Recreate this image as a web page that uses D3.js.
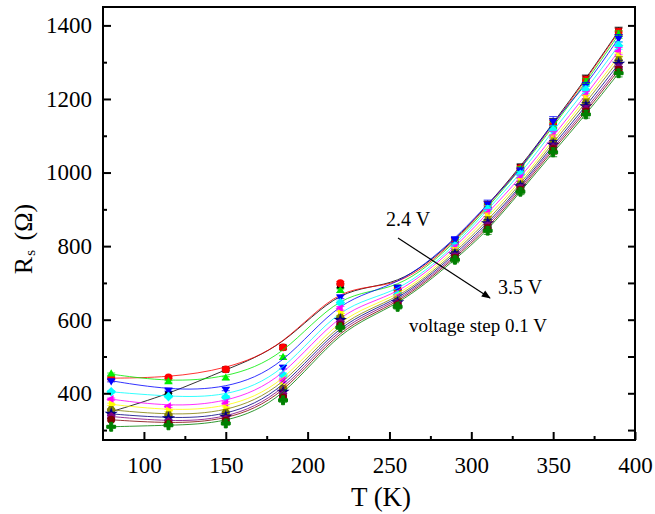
<!DOCTYPE html>
<html><head><meta charset="utf-8">
<script src="https://cdn.jsdelivr.net/npm/d3@7"></script>
<style>
body{margin:0;background:#fff;}
svg, svg text{font-family:"Liberation Serif","Times New Roman",serif !important;}
</style></head>
<body><svg id="c" width="655" height="514"></svg>
<script>
// ---- data ----
const temps = [80,115,150,185,220,255,290,310,330,350,370,390];
const voltages = ["2.4 V","2.5 V","2.6 V","2.7 V","2.8 V","2.9 V","3.0 V","3.1 V","3.2 V","3.3 V","3.4 V","3.5 V"];
const v24 = [350, 397, 465, 525, 692, 686, 815, 912, 1015, 1135, 1255, 1385];
const v25 = [441, 443, 465, 525, 699, 680, 812, 910, 1012, 1130, 1252, 1382];
const v26 = [452, 431, 441, 497, 679, 675, 808, 905, 1008, 1125, 1245, 1375];
const v27 = [434, 409, 411, 471, 662, 688, 818, 915, 1005, 1140, 1235, 1365];
const v28 = [404, 391, 389, 450, 646, 668, 800, 900, 995, 1115, 1225, 1345];
const v29 = [384, 364, 373, 436, 631, 662, 795, 890, 985, 1100, 1210, 1330];
const v30 = [370, 353, 359, 420, 617, 656, 788, 880, 975, 1090, 1200, 1315];
const v31 = [355, 341, 347, 412, 606, 651, 782, 870, 968, 1082, 1190, 1305];
const v32 = [344, 332, 336, 404, 599, 647, 777, 862, 962, 1075, 1180, 1295];
const v33 = [337, 323, 329, 396, 592, 643, 772, 855, 958, 1068, 1172, 1285];
const v34 = [328, 318, 325, 389, 585, 639, 768, 848, 953, 1062, 1165, 1278];
const v35 = [309, 313, 318, 381, 579, 635, 763, 842, 948, 1055, 1158, 1270];
const errs = [3, 3, 4, 5, 5, 6, 8, 10, 8, 12, 10, 10];
const seriesValues = [v24,v25,v26,v27,v28,v29,v30,v31,v32,v33,v34,v35];
const colors = ["#000000","#ff0000","#00ee00","#0000ff","#00ffff","#ff00ff","#ffff00","#808000","#000080","#800080","#800000","#008000"];
const shapes = ["square","circle","up","down","diamond","left","right","hexagon","star","pentagon","circle","plus"];
const xTicks = [100,150,200,250,300,350,400];
const yTicks = [400,600,800,1000,1200,1400];

// ---- layout ----
const svg = d3.select("#c");
const L=103, R=635, T=7, B=440;
const x = d3.scaleLinear().domain([75,400]).range([L,R]);
const y = d3.scaleLinear().domain([273,1450]).range([B,T]);
const FONT = "'Liberation Serif','Times New Roman',serif";

function poly(n, r, rot){
  const pts=[];
  for(let i=0;i<n;i++){const a=rot+i*2*Math.PI/n; pts.push([r*Math.cos(a), r*Math.sin(a)]);}
  return "M"+pts.map(p=>p.join(",")).join("L")+"Z";
}
function symPath(s){
  switch(s){
    case "square": return d3.symbol(d3.symbolSquare,46)();
    case "circle": return d3.symbol(d3.symbolCircle,48)();
    case "up": return poly(3,4.8,-Math.PI/2);
    case "down": return poly(3,4.8,Math.PI/2);
    case "left": return poly(3,4.8,Math.PI);
    case "right": return poly(3,4.8,0);
    case "diamond": return poly(4,4.8,0);
    case "hexagon": return poly(6,4.4,0);
    case "pentagon": return poly(5,4.5,-Math.PI/2);
    case "star": return d3.symbol(d3.symbolStar,55)();
    case "plus": return d3.symbol(d3.symbolCross,44)();
  }
}

const g = svg.append("g");
const series = seriesValues.map((vals,i)=>({name:voltages[i], color:colors[i], shape:shapes[i],
  pts: temps.map((t,j)=>({t, v:vals[j], e:errs[j]}))}));

const line = d3.line().x(d=>x(d.t)).y(d=>y(d.v)).curve(d3.curveBasis);

series.forEach(s=>{
  const sg = g.append("g");
  s.pts.forEach(p=>{
    const cx=x(p.t), y1=y(p.v+p.e), y2=y(p.v-p.e);
    sg.append("line").attr("x1",cx).attr("x2",cx).attr("y1",y1).attr("y2",y2).attr("stroke",s.color).attr("stroke-width",0.8);
    [y1,y2].forEach(yy=>sg.append("line").attr("x1",cx-4).attr("x2",cx+4).attr("y1",yy).attr("y2",yy).attr("stroke",s.color).attr("stroke-width",0.8));
  });
  sg.append("path").attr("d",line(s.pts)).attr("fill","none").attr("stroke",s.color).attr("stroke-width",1).attr("stroke-opacity",0.8);
  sg.selectAll("path.m").data(s.pts).enter().append("path").attr("class","m")
    .attr("d",symPath(s.shape)).attr("transform",d=>`translate(${x(d.t)},${y(d.v)})`)
    .attr("fill",s.color).attr("stroke",s.shape==="plus"?s.color:"none");
});

// ---- axes ----
svg.append("rect").attr("x",L).attr("y",T).attr("width",R-L).attr("height",B-T)
  .attr("fill","none").attr("stroke","#000").attr("stroke-width",2);

const xb = svg.append("g").attr("transform",`translate(0,${B})`)
  .call(d3.axisBottom(x).tickValues(xTicks).tickSize(-8).tickFormat(d3.format("d")).tickPadding(17));
const xm = svg.append("g").attr("transform",`translate(0,${B})`)
  .call(d3.axisBottom(x).tickValues(d3.range(125,400,50)).tickSize(-4).tickFormat(""));
const yl = svg.append("g").attr("transform",`translate(${L},0)`)
  .call(d3.axisLeft(y).tickValues(yTicks).tickSize(-8).tickFormat(d3.format("d")).tickPadding(11));
const ym = svg.append("g").attr("transform",`translate(${L},0)`)
  .call(d3.axisLeft(y).tickValues(d3.range(300,1450,200)).tickSize(-4).tickFormat(""));
const yr = svg.append("g").attr("transform",`translate(${R},0)`)
  .call(d3.axisRight(y).tickValues(d3.range(300,1450,100)).tickSize(-7).tickFormat(""));
[xb,xm,yl,ym,yr].forEach(a=>{
  a.attr("font-family",FONT).style("font-family",FONT);
  a.select(".domain").remove();
  a.selectAll(".tick line").attr("stroke","#000").attr("stroke-width",2);
  a.selectAll("text").style("font-family",FONT).attr("font-size",23).attr("fill","#000");
});

// ---- titles ----
svg.append("text").attr("x",381).attr("y",506).attr("text-anchor","middle").attr("font-size",27)
  .style("font-family",FONT).text("T (K)");
const yt = svg.append("text").attr("transform","translate(32,239) rotate(-90)").attr("text-anchor","middle")
  .attr("font-size",26).style("font-family",FONT);
yt.append("tspan").text("R");
yt.append("tspan").attr("font-size",15).attr("dy",3).attr("dx",1).text("s");
yt.append("tspan").attr("dy",-3).attr("dx",3).text("\u00a0(Ω)");

// ---- annotation ----
const ann = svg.append("g").style("font-family",FONT);
ann.append("text").attr("x",386).attr("y",226).attr("font-size",20).text("2.4 V");
ann.append("text").attr("x",498).attr("y",294).attr("font-size",20).text("3.5 V");
ann.append("text").attr("x",409).attr("y",332).attr("font-size",19).text("voltage step 0.1 V");
svg.append("defs").append("marker").attr("id","ah").attr("viewBox","0 0 10 10").attr("refX",9).attr("refY",5)
  .attr("markerWidth",10).attr("markerHeight",9).attr("orient","auto").attr("markerUnits","userSpaceOnUse")
  .append("path").attr("d","M0,1L10,5L0,9Z").attr("fill","#000");
svg.append("line").attr("x1",398).attr("y1",238).attr("x2",490).attr("y2",298)
  .attr("stroke","#000").attr("stroke-width",1.2).attr("marker-end","url(#ah)");
</script></body></html>
